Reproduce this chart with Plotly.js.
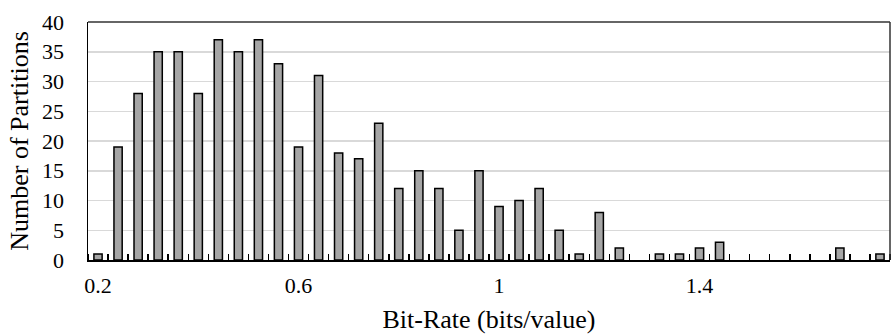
<!DOCTYPE html>
<html>
<head>
<meta charset="utf-8">
<script src="https://cdn.plot.ly/plotly-3.0.1.min.js"></script>
<style>html,body{margin:0;padding:0;background:#fff;}#chart{width:892px;height:336px;}</style>
</head>
<body>
<div id="chart"></div>
<script>
const bitRates = [0.2,0.24,0.28,0.32,0.36,0.4,0.44,0.48,0.52,0.56,
                  0.6,0.64,0.68,0.72,0.76,0.8,0.84,0.88,0.92,0.96,
                  1.0,1.04,1.08,1.12,1.16,1.2,1.24,1.28,1.32,1.36,
                  1.4,1.44,1.48,1.52,1.56,1.6,1.64,1.68,1.72,1.76];
const partitions = [1,19,28,35,35,28,37,35,37,33,
                    19,31,18,17,23,12,15,12,5,15,
                    9,10,12,5,1,8,2,0,1,1,
                    2,3,0,0,0,0,0,2,0,1];
const xTickVals = [0.2,0.6,1,1.4];
const xTickText = ["0.2","0.6","1","1.4"];
const yTickVals = [0,5,10,15,20,25,30,35,40];

const serif = "'Liberation Serif', 'Times New Roman', serif";
const outlineWidths = partitions.map(v => v > 0 ? 1.5 : 0);

Plotly.newPlot('chart', [{
  type: 'bar',
  x: bitRates,
  y: partitions,
  marker: {color: '#a6a6a6', line: {color: '#000', width: outlineWidths}},
  hoverinfo: 'x+y'
}], {
  width: 892, height: 336,
  margin: {l: 88, r: 2, t: 22, b: 76},
  paper_bgcolor: '#fff', plot_bgcolor: '#fff',
  bargap: 0.59,
  showlegend: false,
  font: {family: serif, color: '#000', size: 22},
  xaxis: {
    range: [0.18, 1.78],
    tickmode: 'array', tickvals: xTickVals, ticktext: xTickText,
    ticks: '', showgrid: false, zeroline: false,
    showline: true, linecolor: '#000', linewidth: 2, mirror: false,
    ticklabelstandoff: 5,
    tickfont: {family: serif, size: 22, color: '#000'},
    minor: {ticks: 'inside', tick0: 0.18, dtick: 0.04, ticklen: 6, tickwidth: 1.5, tickcolor: '#000', showgrid: false},
    title: {text: 'Bit-Rate (bits/value)', font: {family: serif, size: 26, color: '#000'}, standoff: 12}
  },
  yaxis: {
    range: [0, 40],
    tickmode: 'array', tickvals: yTickVals,
    ticks: '', showgrid: true, gridcolor: '#d9d9d9', gridwidth: 1.5,
    zeroline: false, showline: true, linecolor: '#000', linewidth: 1.5, mirror: false,
    ticklabelstandoff: 18,
    tickfont: {family: serif, size: 22, color: '#000'},
    title: {text: 'Number of Partitions', font: {family: serif, size: 26, color: '#000'}, standoff: 6}
  },
  shapes: [
    {type: 'line', xref: 'paper', yref: 'paper', x0: 0, x1: 1, y0: 1, y1: 1, line: {color: '#333', width: 1.5}},
    {type: 'line', xref: 'paper', yref: 'paper', x0: 1, x1: 1, y0: 0, y1: 1, line: {color: '#333', width: 1.5}}
  ]
}, {displayModeBar: false, staticPlot: true});
</script>
</body>
</html>
